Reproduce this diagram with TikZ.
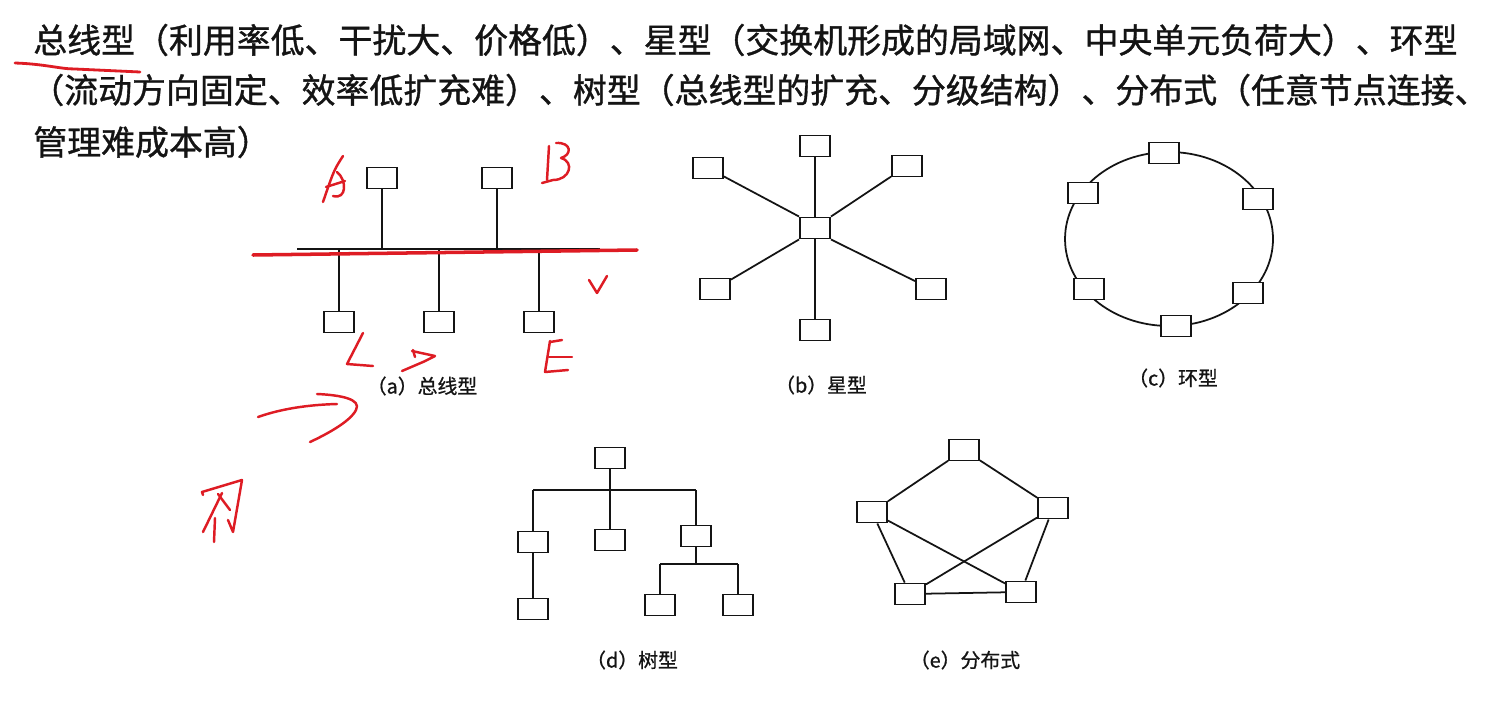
\documentclass[tikz,border=0pt]{standalone}
\usepackage{fontspec}
\newfontfamily\cjk[FakeBold=1]{Noto Sans CJK SC}
\newfontfamily\cjkcap[FakeBold=0.8]{Noto Sans CJK SC}
\definecolor{pen}{RGB}{222,28,36}
\definecolor{inkc}{RGB}{20,20,20}
\begin{document}
\begin{tikzpicture}[x=0.02cm,y=-0.02cm,
  box/.style={draw=inkc,line width=1.1pt,fill=white,minimum width=0.6cm,minimum height=0.42cm,inner sep=0pt},
  wire/.style={draw=inkc,line width=1pt},
  captxt/.style={font=\cjkcap\fontsize{11.3pt}{13pt}\selectfont,text=inkc,inner sep=0pt},
  head/.style={font=\cjk\fontsize{19.3pt}{22pt}\selectfont,text=inkc,anchor=west,inner sep=0pt},
  penline/.style={draw=pen,line width=1.4pt,line cap=round,line join=round}]
\useasboundingbox[fill=white] (0,0) rectangle (1506,706);

% header text
\node[head] (h1) at (33,40) {总线型（利用率低、干扰大、价格低）、星型（交换机形成的局域网、中央单元负荷大）、环型};
\node[head] (h2) at (30,90) {（流动方向固定、效率低扩充难）、树型（总线型的扩充、分级结构）、分布式（任意节点连接、};
\node[head] (h3) at (33,142) {管理难成本高）};

% ---------- (a) bus ----------
\coordinate (busL) at (297,249);
\coordinate (busR) at (600,249);
\draw[wire] (busL) -- (busR);
\node[box] (a1) at (382,178) {};
\node[box] (a2) at (497,178) {};
\node[box] (a3) at (339,322) {};
\node[box] (a4) at (439,322) {};
\node[box] (a5) at (539,322) {};
\draw[wire] (a1.south) -- (a1.south |- busL);
\draw[wire] (a2.south) -- (a2.south |- busL);
\draw[wire] (a3.north) -- (a3.north |- busL);
\draw[wire] (a4.north) -- (a4.north |- busL);
\draw[wire] (a5.north) -- (a5.north |- busL);
\node[captxt] (ca) at (422,386) {（a）总线型};

% ---------- (b) star ----------
\node[box] (sc) at (815,228) {};
\node[box] (st) at (815,146) {};
\node[box] (stl) at (708,168) {};
\node[box] (str) at (907,166) {};
\node[box] (sbl) at (715,289) {};
\node[box] (sbr) at (931,289) {};
\node[box] (sb) at (815,330) {};
\draw[wire] (sc.north) -- (st.south);
\draw[wire] (sc.south) -- (sb.north);
\draw[wire] (sc.north west) -- (stl);
\draw[wire] (sc.north east) -- (str);
\draw[wire] (sc.south west) -- (sbl);
\draw[wire] (sc.south east) -- (sbr);
\node[captxt] (cb) at (821,385) {（b）星型};

% ---------- (c) ring ----------
\draw[wire] (1169,239) ellipse [x radius=2.08cm, y radius=1.74cm];
\node[box] (r1) at (1164,153) {};
\node[box] (r2) at (1258,199) {};
\node[box] (r3) at (1248,293) {};
\node[box] (r4) at (1176,326) {};
\node[box] (r5) at (1089,289) {};
\node[box] (r6) at (1083,193) {};
\node[captxt] (cc) at (1173,378) {（c）环型};

% ---------- (d) tree ----------
\node[box] (troot) at (610,458) {};
\node[box] (tml) at (533,542) {};
\node[box] (tm) at (610,540) {};
\node[box] (tmr) at (696,536) {};
\node[box] (tll) at (533,609) {};
\node[box] (trl) at (660,605) {};
\node[box] (trr) at (738,605) {};
\coordinate (barL) at (533,490);
\coordinate (barR) at (696,490);
\coordinate (subL) at (660,564);
\coordinate (subR) at (738,564);
\draw[wire] (barL) -- (barR);
\draw[wire] (troot.south) -- (troot.south |- barL);
\draw[wire] (tml.north) -- (barL);
\draw[wire] (tm.north) -- (tm.north |- barL);
\draw[wire] (tmr.north) -- (barR);
\draw[wire] (tml.south) -- (tll.north);
\draw[wire] (subL) -- (subR);
\draw[wire] (tmr.south) -- (tmr.south |- subL);
\draw[wire] (trl.north) -- (subL);
\draw[wire] (trr.north) -- (subR);
\node[captxt] (cd) at (632,660) {（d）树型};

% ---------- (e) distributed ----------
\node[box] (e1) at (964,450) {};
\node[box] (e2) at (1053,508) {};
\node[box] (e3) at (1021,592) {};
\node[box] (e4) at (910,594) {};
\node[box] (e5) at (872,512) {};
\draw[wire] (e1) -- (e2);
\draw[wire] (e1) -- (e5);
\draw[wire] (e5) -- (e4);
\draw[wire] (e5) -- (e3);
\draw[wire] (e2) -- (e4);
\draw[wire] (e2) -- (e3);
\draw[wire] (e4) -- (e3);
\node[captxt] (ce) at (965,660) {（e）分布式};

% ---------- red handwriting ----------
\draw[penline,line width=1.6pt] (15,63) .. controls (45,64) and (60,69) .. (75,69) -- (140,72);
\draw[penline,line width=2pt] (253,255) -- (637,250);
% A
\draw[penline] (343,156) .. controls (334,170) .. (323,202);
\draw[penline] (337,172) .. controls (347,180) and (347,200) .. (333,196);
\draw[penline] (326,187) -- (345,181);
% B
\draw[penline] (549,146) -- (547,180);
\draw[penline] (556,143) .. controls (572,142) and (572,155) .. (561,158) .. controls (575,162) and (570,180) .. (553,180) -- (542,183);
% C
\draw[penline] (363,333) -- (347,364) -- (373,366);
% D
\draw[penline] (413,350) -- (415,357);
\draw[penline] (412,351) -- (435,356) -- (423,362) -- (402,371);
% E
\draw[penline] (550,342) -- (562,340);
\draw[penline] (550,341) -- (545,372) -- (568,370);
\draw[penline] (549,357) -- (572,357);
% check
\draw[penline] (589,280) -- (597,293) -- (607,276);
% arrow
\draw[penline] (258,417) .. controls (275,411) and (300,405) .. (337,404);
\draw[penline] (317,394) .. controls (340,395) and (362,399) .. (356,410) .. controls (350,422) and (325,435) .. (310,442);
% scribble
\draw[penline] (203,495) -- (202,492) -- (242,480) -- (233,532) -- (228,520);
\draw[penline] (222,493) -- (203,532);
\draw[penline] (218,494) -- (230,510);
\draw[penline] (215,518) -- (214,542);
\end{tikzpicture}
\end{document}
